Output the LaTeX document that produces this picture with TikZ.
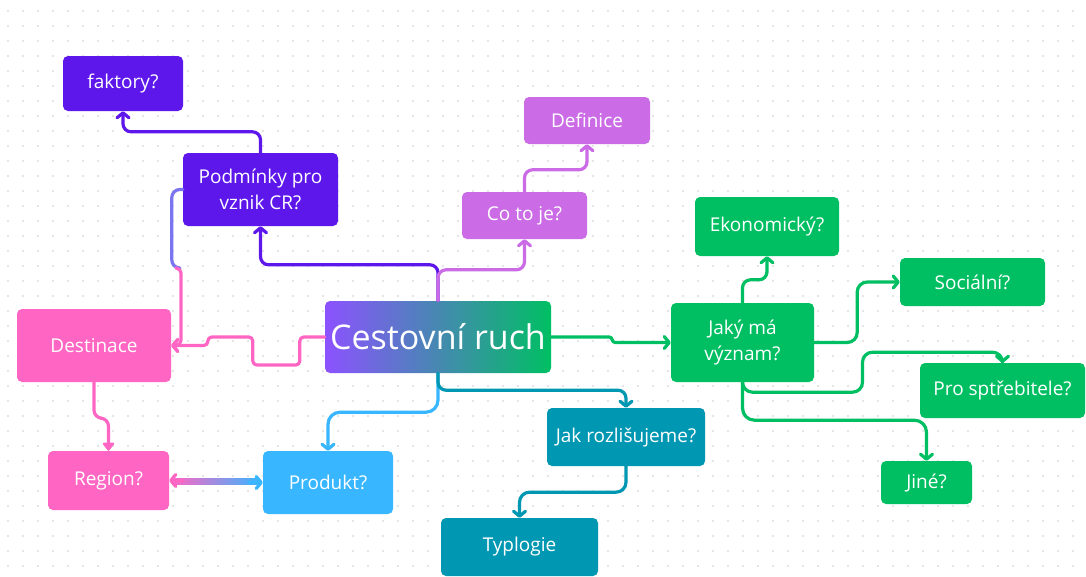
\documentclass[tikz,border=0pt]{standalone}
\usepackage{fontspec}
\setmainfont{Open Sans}
\usetikzlibrary{arrows.meta,calc}
\definecolor{cpurple}{HTML}{5E17EB}
\definecolor{clilac}{HTML}{CB6CE6}
\definecolor{cpink}{HTML}{FF66C4}
\definecolor{cblue}{HTML}{38B6FF}
\definecolor{cteal}{HTML}{0097B2}
\definecolor{cgreen}{HTML}{00BF63}
\definecolor{cviolet}{HTML}{8C52FF}
\definecolor{cmix}{HTML}{7B74F0}
\definecolor{cdot}{HTML}{DCDCDC}
\begin{document}
\begin{tikzpicture}[x=1pt,y=-1pt,
 box/.style={rounded corners=5pt, text=white, font=\fontsize{19}{26}\selectfont, align=center, inner sep=0pt},
 conn/.style={line width=3.2pt, rounded corners=8pt, -{Straight Barb[length=5pt,width=12pt,round]}, line cap=round, line join=round},
 plain/.style={line width=3.2pt, rounded corners=8pt, line cap=round, line join=round},
]
\useasboundingbox[fill=white] (0,0) rectangle (1086,576);
% dotted grid
\foreach \i in {0,...,72}{\foreach \j in {0,...,38}{
  \fill[cdot] (8+15*\i,11+15*\j) circle (1.1pt);
}}
% nodes
\node[box, fill=cpurple, minimum width=120pt, minimum height=55pt] (fakt) at (123,83.5) {faktory?};
\node[box, fill=cpurple, minimum width=155pt, minimum height=73pt] (podm) at (260.5,189.5) {Podmínky pro\\vznik CR?};
\node[box, fill=cpink, minimum width=154pt, minimum height=73pt] (dest) at (94,345.5) {Destinace};
\node[box, fill=cpink, minimum width=121pt, minimum height=59pt] (reg) at (108.5,480.5) {Region?};
\node[box, fill=cblue, minimum width=130pt, minimum height=63pt] (prod) at (328,482.5) {Produkt?};
\node[box, left color=cviolet, right color=cgreen, minimum width=226pt, minimum height=72pt, font=\fontsize{34}{40}\selectfont] (cr) at (438,337) {Cestovní ruch};
\node[box, fill=cteal, minimum width=158pt, minimum height=58pt] (jak) at (626,437) {Jak rozlišujeme?};
\node[box, fill=cteal, minimum width=157pt, minimum height=58pt] (typ) at (519.5,547) {Typlogie};
\node[box, fill=clilac, minimum width=125pt, minimum height=47pt] (co) at (524.5,215.5) {Co to je?};
\node[box, fill=clilac, minimum width=126pt, minimum height=47pt] (def) at (587,120.5) {Definice};
\node[box, fill=cgreen, minimum width=144pt, minimum height=59pt] (eko) at (767,226.5) {Ekonomický?};
\node[box, fill=cgreen, minimum width=145pt, minimum height=48pt] (soc) at (972.5,282) {Sociální?};
\node[box, fill=cgreen, minimum width=143pt, minimum height=79pt] (vyz) at (742.5,342.5) {Jaký má\\význam?};
\node[box, fill=cgreen, minimum width=165pt, minimum height=55pt] (spt) at (1002.5,390.5) {Pro sptřebitele?};
\node[box, fill=cgreen, minimum width=91pt, minimum height=43pt] (jine) at (926.5,482.5) {Jiné?};
% connectors
\draw[conn, cpurple] (cr.north) -- ++(0,-36) -| (podm.south);
\draw[conn, cpurple] (podm.north) -- ++(0,-21) -| (fakt.south);
\coordinate (pj) at (176.5,268);
\draw[plain, cmix] (podm.west) -- ++(-11,0) |- (pj);
\draw[conn, cpink, rounded corners=5pt] (pj) -- ++(4.5,0) |- (dest.east);
\draw[conn, cpink, rounded corners=4pt] (cr.west) -- ++(-25,0) -- ++(0,28) -- ++(-47,0) -- ++(0,-28) -- ++(-45,0) |- (dest.east);
\draw[conn, clilac] (cr.north) -- ++(0,-31) -| (co.south);
\draw[conn, clilac] (co.north) -- ++(0,-22) -| (def.south);
\draw[conn, cgreen, rounded corners=3pt] (cr.east) -- ++(61,0) |- (vyz.west);
\draw[conn, cgreen] (vyz.north) -- ++(0,-23) -| (eko.south);
\draw[conn, cgreen, rounded corners=10pt] (vyz.east) -- ++(43,0) |- (soc.west);
\draw[conn, cgreen, rounded corners=10pt] (vyz.south) -- ++(0,10) -- ++(120,0) -- ++(0,-40) -| (spt.north);
\draw[conn, cgreen, rounded corners=12pt] (vyz.south) -- ++(0,38) -| (jine.north);
\draw[conn, cblue, rounded corners=12pt] (cr.south) -- ++(0,39) -| (prod.north);
\draw[conn, cteal] (cr.south) -- ++(0,17) -| (jak.north);
\draw[conn, cteal, rounded corners=10pt] (jak.south) -- ++(0,26) -| (typ.north);
\draw[line width=3.2pt, rounded corners=8pt, cpink, -{Triangle[length=9pt,width=13pt,round]}] (dest.south) -- ++(0,36) -| (reg.north);
% gradient double arrow
\shade[left color=cpink, right color=cblue] ($(reg.east)+(3,-1.6)$) rectangle ($(prod.west)+(-3,1.6)$);
\draw[line width=3.2pt, cpink, line cap=round, {Straight Barb[length=5pt,width=12pt,round]}-] (reg.east) -- ++(14,0);
\draw[line width=3.2pt, cblue, line cap=round, -{Straight Barb[length=5pt,width=12pt,round]}] ($(prod.west)+(-14,0)$) -- (prod.west);
\end{tikzpicture}
\end{document}
